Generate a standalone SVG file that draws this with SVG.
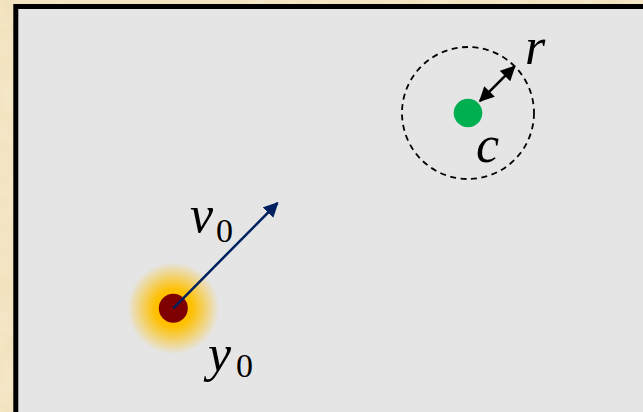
<svg xmlns="http://www.w3.org/2000/svg" width="643" height="412" viewBox="0 0 643 412">
  <defs>
    <filter id="parch" x="0" y="0" width="100%" height="100%">
      <feTurbulence type="fractalNoise" baseFrequency="0.04" numOctaves="3" seed="4" result="n"/>
      <feColorMatrix in="n" type="matrix" values="0 0 0 0 0.93  0 0 0 0 0.84  0 0 0 0 0.66  0 0 0 0.9 -0.2" result="c"/>
      <feComposite in="c" in2="SourceGraphic" operator="over"/>
    </filter>
    <radialGradient id="glow" cx="0.5" cy="0.5" r="0.5">
      <stop offset="0" stop-color="#ffc000" stop-opacity="1"/>
      <stop offset="0.4" stop-color="#ffc000" stop-opacity="1"/>
      <stop offset="1" stop-color="#ffc000" stop-opacity="0"/>
    </radialGradient>
    <marker id="headBlue" viewBox="0 0 10 10" refX="9" refY="5" markerWidth="6" markerHeight="6" markerUnits="strokeWidth" orient="auto">
      <path d="M0,0 L10,5 L0,10 z" fill="#002060"/>
    </marker>
    <marker id="headBlack" viewBox="0 0 10 10" refX="9" refY="5" markerWidth="6.5" markerHeight="6" markerUnits="strokeWidth" orient="auto-start-reverse">
      <path d="M0,0 L10,5 L0,10 z" fill="#000"/>
    </marker>
    <style>
      .lbl { font-family: "Liberation Serif", "DejaVu Serif", serif; font-style: italic; font-size: 52px; fill: #000; }
      .sub { font-style: normal; font-size: 34px; }
    </style>
  </defs>

  <rect x="0" y="0" width="643" height="412" fill="#f2e2bd" filter="url(#parch)"/>
  <rect id="frame" x="15.8" y="6.5" width="640" height="420" fill="#e5e5e5" stroke="#000" stroke-width="5"/>

  <g id="target">
    <circle cx="468" cy="113" r="66" fill="none" stroke="#000" stroke-width="1.8" stroke-dasharray="6,4.5"/>
    <circle cx="468" cy="113" r="14.3" fill="#00b050"/>
    <text class="lbl" x="476" y="162">c</text>
    <text class="lbl" x="525" y="64">r</text>
  </g>

  <g id="start">
    <circle cx="173.3" cy="308.3" r="46" fill="url(#glow)"/>
    <circle cx="173.3" cy="308.3" r="14.5" fill="#7f0000"/>
    <text class="lbl" x="208" y="371">y<tspan class="sub" x="236" y="377">0</tspan></text>
  </g>

  <g id="velocity-label">
    <text class="lbl" x="190" y="232">v<tspan class="sub" x="216" y="242">0</tspan></text>
  </g>

  <g id="connectors">
    <line x1="173.3" y1="308.3" x2="277.5" y2="203" stroke="#002060" stroke-width="2.5" marker-end="url(#headBlue)"/>
    <line x1="480" y1="101" x2="514.5" y2="66.5" stroke="#000" stroke-width="2.5" marker-start="url(#headBlack)" marker-end="url(#headBlack)"/>
  </g>
</svg>
